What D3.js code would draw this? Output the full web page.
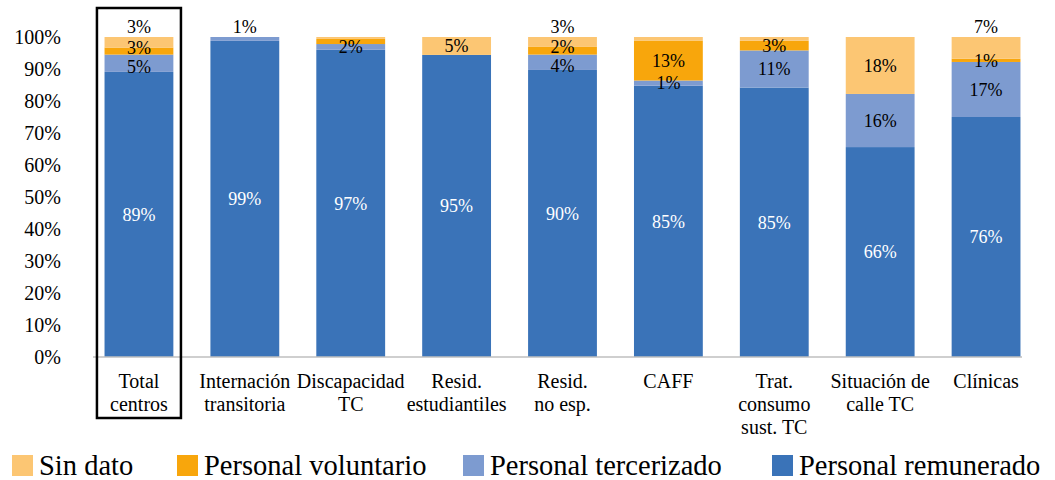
<!DOCTYPE html>
<html>
<head>
<meta charset="utf-8">
<script src="https://cdn.jsdelivr.net/npm/d3@7"></script>
<style>
  body { margin: 0; background: #fff; }
  svg { display: block; font-family: "Liberation Serif", "Times New Roman", serif; }
</style>
</head>
<body>
<svg id="chart" width="1055" height="480"></svg>
<script>
// categories, bottom-up stack values and printed labels
const categories = ["Total\ncentros", "Internación\ntransitoria", "Discapacidad\nTC", "Resid.\nestudiantiles",
  "Resid.\nno esp.", "CAFF", "Trat.\nconsumo\nsust. TC", "Situación de\ncalle TC", "Clínicas"];

const remunerado  = [89.1, 98.8, 96.0, 94.4, 89.7, 84.8, 84.2, 65.6, 75.0];
const tercerizado = [5.4, 1.2, 1.8, 0, 4.8, 1.6, 11.6, 16.6, 17.2];
const voluntario  = [2.2, 0, 1.6, 0, 2.4, 12.5, 3.0, 0, 1.0];
const sinDato     = [3.3, 0, 0.6, 5.6, 3.1, 1.1, 1.2, 17.8, 6.8];

const remuneradoLabels  = [89, 99, 97, 95, 90, 85, 85, 66, 76];
const tercerizadoLabels = [5, 1, 2, null, 4, 1, 11, 16, 17];
const voluntarioLabels  = [3, null, null, null, 2, 13, 3, null, 1];
const sinDatoLabels     = [3, null, null, 5, 3, null, null, 18, 7];

const yTicks = [0, 10, 20, 30, 40, 50, 60, 70, 80, 90, 100];

const series = [
  { key: "remunerado", name: "Personal remunerado", color: "#3a73b8", text: "#fff", labels: remuneradoLabels },
  { key: "tercerizado", name: "Personal tercerizado", color: "#7d9bd0", text: "#000", labels: tercerizadoLabels },
  { key: "voluntario", name: "Personal voluntario", color: "#f8a60c", text: "#000", labels: voluntarioLabels },
  { key: "sinDato", name: "Sin dato", color: "#fcc673", text: "#000", labels: sinDatoLabels }
];

const rows = categories.map((c, i) => ({
  cat: c,
  remunerado: remunerado[i],
  tercerizado: tercerizado[i],
  voluntario: voluntario[i],
  sinDato: sinDato[i]
}));

const svg = d3.select("#chart");
const fontSize = 20;
const labelSize = 18;
const minGap = 19;

const y = d3.scaleLinear().domain([0, 100]).range([357, 37]);
const x = d3.scaleBand()
  .domain(categories)
  .range([86, 1039])
  .paddingInner(0.35)
  .paddingOuter(0.175);

const stacked = d3.stack().keys(series.map(s => s.key))(rows);

// bars
svg.append("g")
  .selectAll("g")
  .data(stacked)
  .join("g")
  .attr("fill", (d, i) => series[i].color)
  .selectAll("rect")
  .data(d => d)
  .join("rect")
  .attr("x", d => x(d.data.cat))
  .attr("width", x.bandwidth())
  .attr("y", d => y(d[1]))
  .attr("height", d => y(d[0]) - y(d[1]));

// baseline
svg.append("line")
  .attr("x1", 93).attr("x2", 1022)
  .attr("y1", y(0)).attr("y2", y(0))
  .attr("stroke", "#bfbfbf")
  .attr("stroke-width", 1.3);

// y axis
const yAxis = svg.append("g")
  .attr("transform", "translate(65,0)")
  .call(d3.axisLeft(y).tickValues(yTicks).tickSize(0).tickPadding(4).tickFormat(d => d + "%"));
yAxis.select(".domain").remove();
yAxis.selectAll("text")
  .attr("font-family", "Liberation Serif, serif")
  .attr("font-size", fontSize)
  .attr("fill", "#000");

// x axis labels (multi-line)
const xAxis = svg.append("g")
  .attr("transform", `translate(0,${y(0)})`)
  .call(d3.axisBottom(x).tickSize(0).tickFormat(""));
xAxis.select(".domain").remove();
xAxis.selectAll(".tick").each(function(d) {
  const t = d3.select(this).append("text")
    .attr("text-anchor", "middle")
    .attr("font-family", "Liberation Serif, serif")
    .attr("font-size", fontSize)
    .attr("fill", "#000")
    .attr("y", 31);
  d.split("\n").forEach((line, i) => {
    t.append("tspan").attr("x", 0).attr("dy", i === 0 ? 0 : 23).text(line);
  });
});

// data labels: centred in segment; small/crowded top segment goes above the bar
categories.forEach((cat, ci) => {
  const labs = [];
  let topSeg = -1;
  stacked.forEach((s, si) => { if (s[ci][1] - s[ci][0] > 0) topSeg = si; });
  stacked.forEach((s, si) => {
    const v = series[si].labels[ci];
    if (v == null) return;
    const seg = s[ci];
    labs.push({ si, text: v + "%", cy: (y(seg[0]) + y(seg[1])) / 2, h: y(seg[0]) - y(seg[1]), top: si === topSeg });
  });
  labs.sort((a, b) => a.cy - b.cy);
  const first = labs[0];
  if (first && first.top) {
    const next = labs[1];
    if (first.h < 16 || (next && next.cy - first.cy < minGap)) {
      first.cy = y(100) - 10;
      first.fixed = true;
    }
  }
  // spread overlapping neighbours apart (label above the bar stays put)
  for (let k = 0; k < 10; k++) {
    for (let j = 0; j < labs.length - 1; j++) {
      const a = labs[j], b = labs[j + 1];
      const gap = b.cy - a.cy;
      if (gap < minGap) {
        if (a.fixed) {
          b.cy += minGap - gap;
        } else {
          const m = (minGap - gap) / 2;
          a.cy -= m;
          b.cy += m;
        }
      }
    }
  }
  svg.append("g")
    .selectAll("text")
    .data(labs)
    .join("text")
    .attr("x", x(cat) + x.bandwidth() / 2)
    .attr("y", d => d.cy)
    .attr("dy", "0.35em")
    .attr("text-anchor", "middle")
    .attr("font-size", labelSize)
    .attr("fill", d => series[d.si].text)
    .text(d => d.text);
});

// highlight box around the first category
svg.append("rect")
  .attr("x", x(categories[0]) + x.bandwidth() / 2 - 42)
  .attr("y", 8)
  .attr("width", 84)
  .attr("height", y(0) + 61 - 8)
  .attr("fill", "none")
  .attr("stroke", "#000")
  .attr("stroke-width", 2.5);

// legend
const legendOrder = ["sinDato", "voluntario", "tercerizado", "remunerado"];
const legendX = [12, 177, 463, 772];
const legend = svg.append("g")
  .selectAll("g")
  .data(legendOrder.map(k => series.find(s => s.key === k)))
  .join("g")
  .attr("transform", (d, i) => `translate(${legendX[i]},455)`);
legend.append("rect")
  .attr("width", 21).attr("height", 21)
  .attr("fill", d => d.color);
legend.append("text")
  .attr("x", 27)
  .attr("y", 20)
  .attr("font-size", 28.5)
  .attr("fill", "#000")
  .text(d => d.name);
</script>
</body>
</html>
